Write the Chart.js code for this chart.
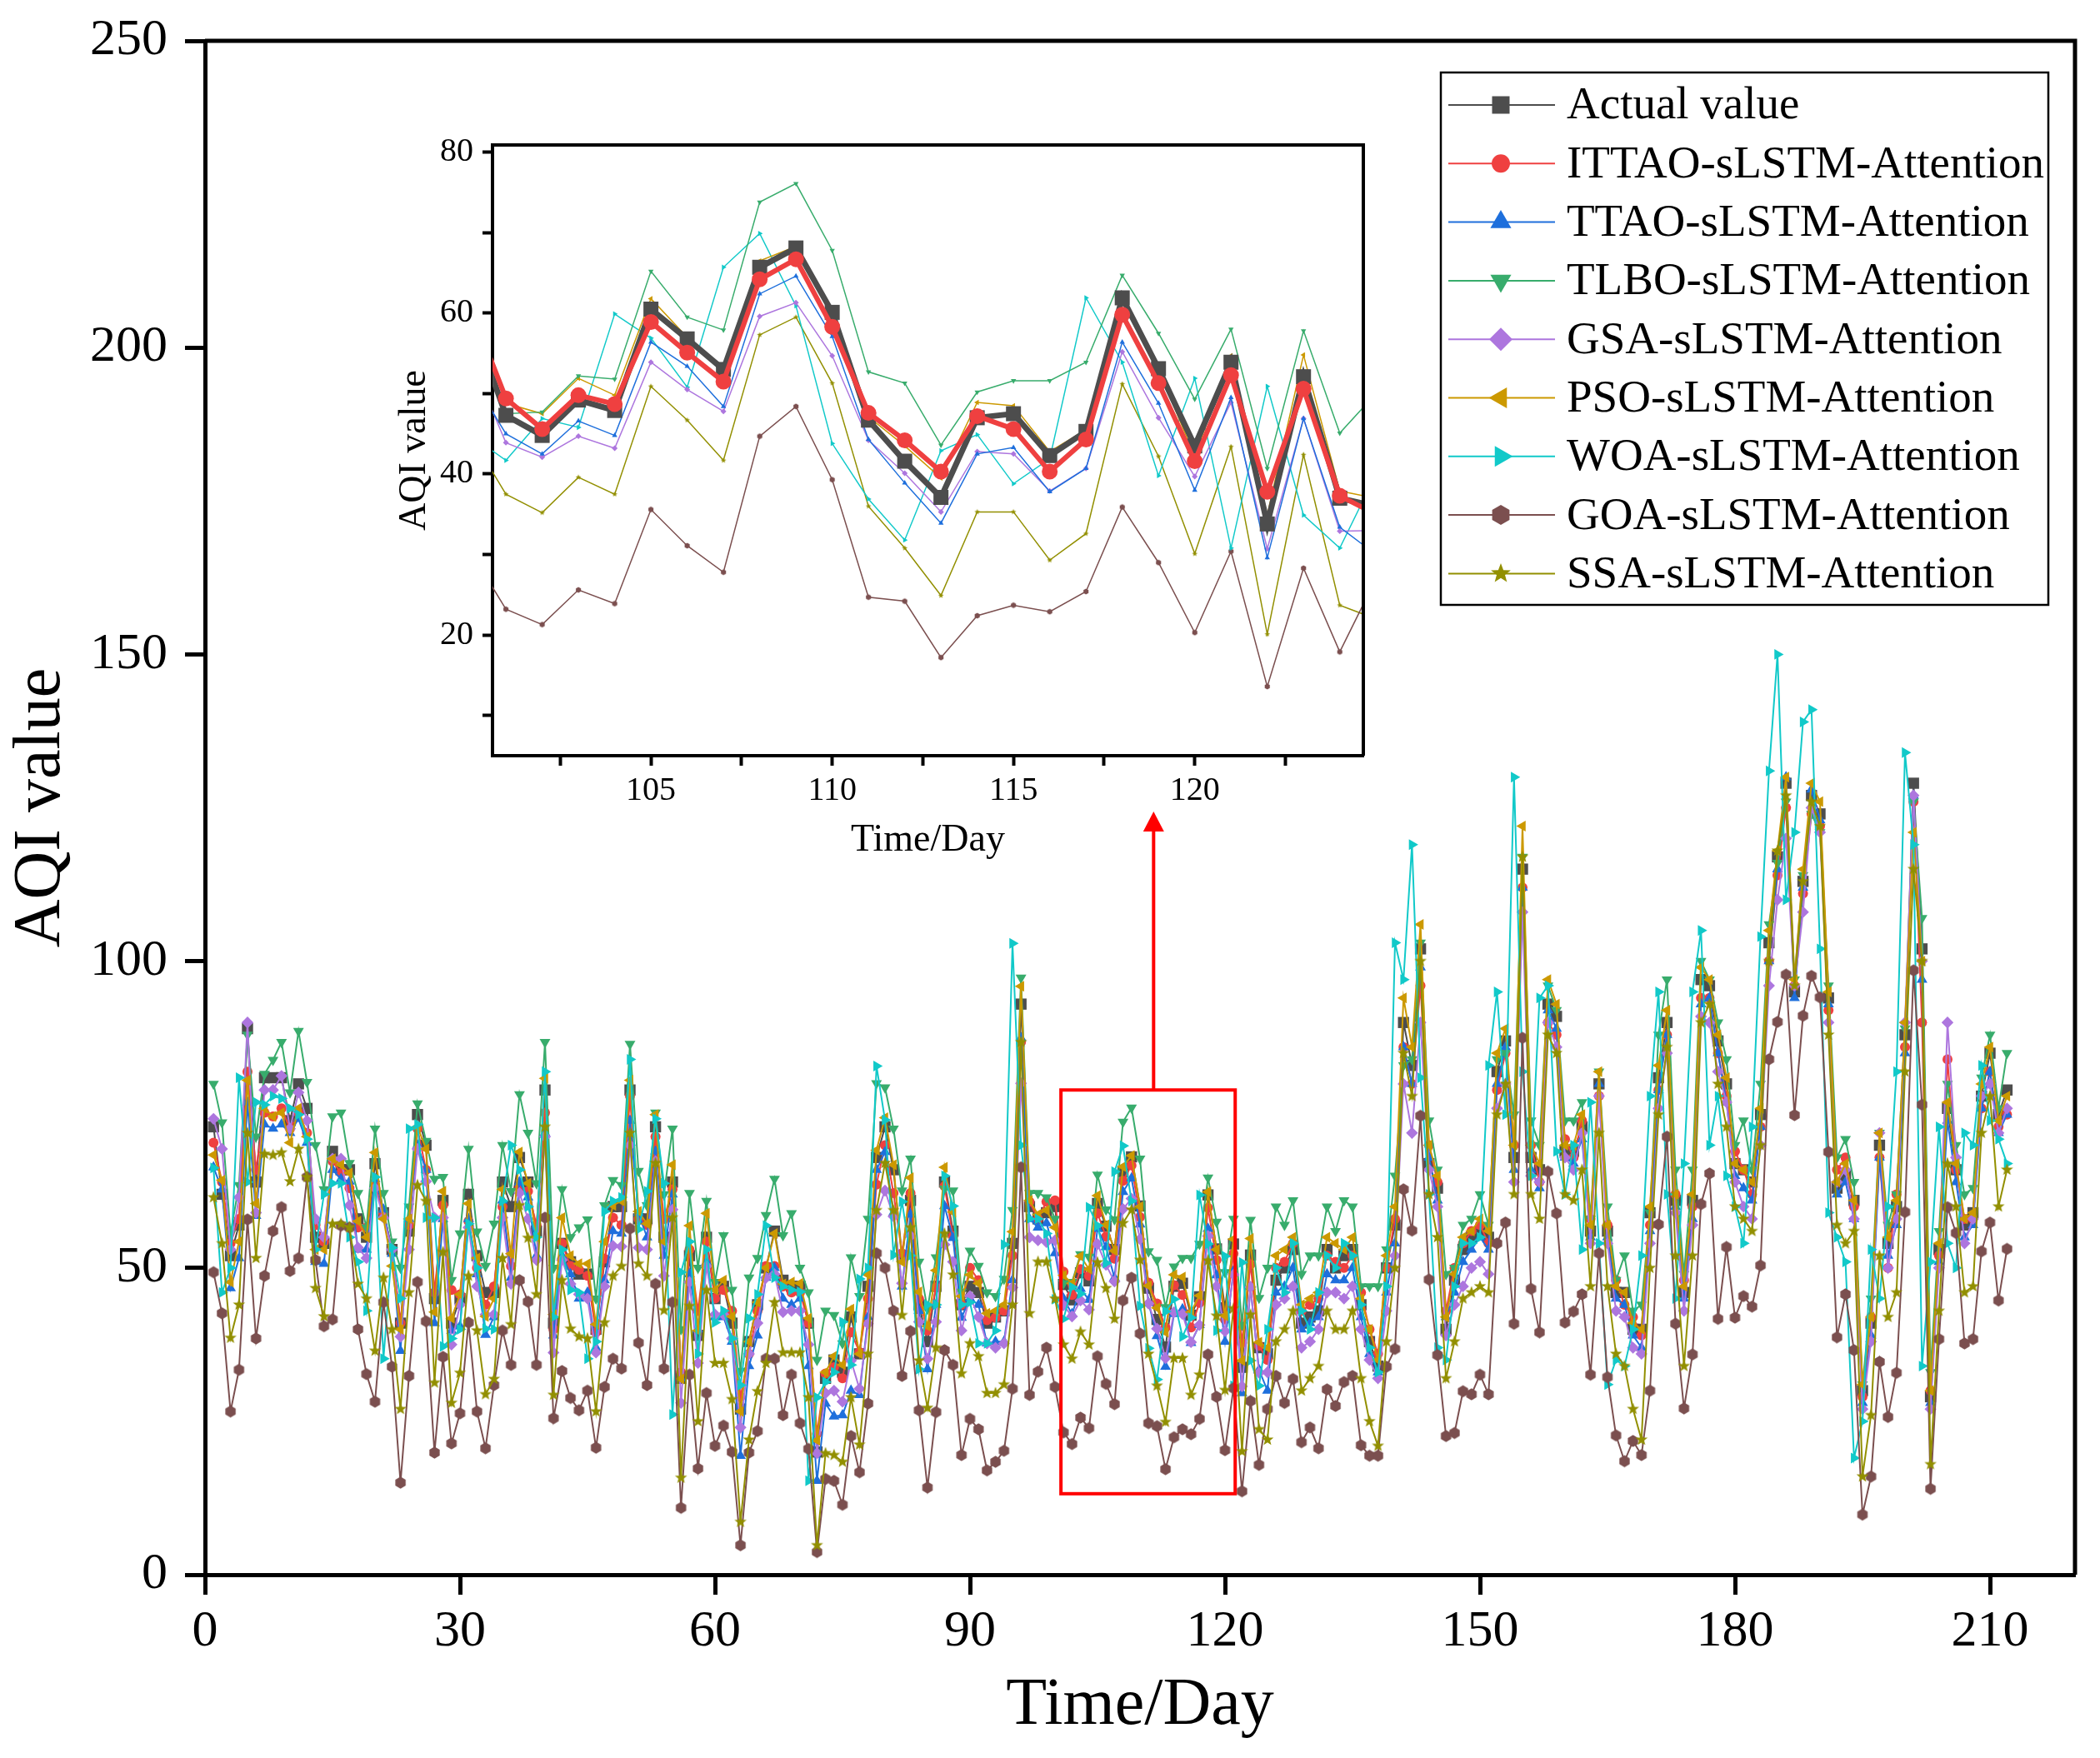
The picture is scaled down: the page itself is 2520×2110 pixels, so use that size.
<!DOCTYPE html>
<html>
<head>
<meta charset="utf-8">
<script src="https://cdn.jsdelivr.net/npm/chart.js@4.4.1/dist/chart.umd.min.js"></script>
<style>
  html, body { margin: 0; padding: 0; background: #fff; }
  #wrap { position: relative; width: 2520px; height: 2110px; }
  #main { position: absolute; left: 0; top: 0; }
  #inset { position: absolute; left: 440px; top: 150px; }
</style>
</head>
<body>
<div id="wrap">
  <canvas id="main" width="2520" height="2110"></canvas>
  <canvas id="inset" width="1216" height="900"></canvas>
</div>
<script>
// --- values (days 1..212) ---
const actual = [
  73, 62, 52, 57, 89, 64, 81, 81, 81, 74,
  80, 76, 55, 54, 69, 66, 66, 58, 55, 67,
  59, 53, 41, 56, 75, 70, 45, 61, 41, 45,
  62, 52, 46, 46, 64, 60, 68, 64, 56, 79,
  41, 54, 51, 49, 49, 40, 51, 60, 60, 79,
  58, 58, 73, 55, 64, 32, 52, 39, 55, 45,
  47, 41, 27, 38, 44, 50, 56, 48, 47, 47,
  41, 20, 32, 35, 33, 42, 36, 47, 68, 73,
  66, 52, 61, 44, 38, 47, 64, 56, 44, 47,
  46, 41, 42, 43, 54, 93, 60, 58, 59, 60,
  47.3, 44.8, 49.2, 47.9, 60.5, 56.8, 53, 65.7, 68.1, 60.1,
  46.7, 41.6, 37.1, 47, 47.5, 42.3, 45.3, 61.9, 53.1, 43.5,
  53.9, 33.8, 52.1, 37, 36, 48, 50, 53, 41, 42,
  43, 53, 50, 52, 53, 44, 38, 34, 50, 57,
  90, 83, 102, 67, 63, 40, 48, 53, 55, 56,
  55, 82, 87, 68, 115, 68, 66, 93, 91, 69,
  69, 73, 56, 80, 56, 46, 46, 40, 40, 59,
  81, 90, 61, 46, 61, 97, 96, 87, 80, 67,
  66, 64, 75, 103, 117, 129, 95, 113, 127, 124,
  94, 63, 65, 61, 30, 41, 70, 54, 60, 88,
  129, 102, 29, 53, 76, 66, 57, 59, 78, 85, 75, 79
];
const ittao = [
  70.4, 64, 54, 58, 82, 66, 75.3, 74.7, 76, 72.7,
  75.3, 72, 57, 54.3, 67.4, 65.5, 63, 56.6, 56.6, 63.5,
  58.9, 53, 41, 57, 72.7, 66, 46, 60.2, 46.4, 45.7,
  57.6, 50, 44, 47, 60, 50.3, 63, 62.5, 57, 75.3,
  40, 54, 50.3, 49.7, 48.7, 39.5, 51.5, 58.2, 57, 78,
  58, 57, 71.4, 58, 62.8, 33, 53, 43, 54.3, 45,
  46.4, 43, 29, 36, 43, 50.3, 50.3, 47, 46, 46,
  41, 23, 32.8, 33.8, 32, 39.5, 36.3, 45, 63.6, 70,
  62.2, 52.4, 62.2, 45, 39.8, 46.8, 63.3, 55.2, 44, 50,
  48, 41.5, 41.9, 43, 52, 86.8, 60.8, 58, 60.8, 61,
  49.4, 45.6, 49.8, 48.7, 58.9, 55.1, 51.5, 64.2, 66.7, 58.3,
  47.6, 44.2, 40.3, 47.2, 45.6, 40.3, 44.3, 59.8, 51.3, 41.6,
  52.3, 37.8, 50.6, 37.3, 35, 50, 51, 54, 43, 44,
  45, 52, 51, 50, 52, 46, 40, 36, 50, 58,
  86, 80, 96, 70, 64, 43, 50, 54, 56, 57,
  54, 79, 85, 70, 112, 70, 64, 90, 88, 71,
  68, 74, 58, 78, 57, 48, 44, 42, 39, 57,
  79, 88, 62, 48, 60, 94, 94, 85, 78, 69,
  66, 62, 73, 100, 114, 125, 96, 111, 124, 122,
  92, 66, 68, 60, 29, 42, 68, 50, 62, 86,
  126, 90, 30, 52, 84, 66, 58, 58, 76, 82, 73, 75
];
const ttao = [
  66.4, 62.8, 46.7, 51.6, 77, 58.5, 73.4, 72.7, 73.4, 72,
  74.3, 70.4, 51, 50.7, 66, 64.5, 64.1, 53, 53, 64.5,
  59.5, 52.3, 36.5, 58, 70, 66, 41, 58, 39.8, 40.5,
  58, 49, 39.1, 42, 61, 48.4, 64, 61.5, 52, 72,
  39, 52, 49, 45, 46, 37, 48, 56, 55.6, 74,
  59, 55, 69, 52, 62, 32, 49, 40, 51, 42,
  42, 38, 19.4, 34, 39, 48.4, 50, 45, 44, 45,
  34, 15.3, 27.9, 25.8, 26, 30, 29.3, 42, 66, 68.9,
  59, 47, 58.7, 43, 33.5, 44, 60.1, 54.9, 41.9, 45,
  44, 37.7, 38, 38, 48, 87.5, 58, 56.6, 57.3, 52.4,
  45.0, 42.5, 46.6, 44.8, 56.4, 53.4, 48.4, 62.4, 64.6, 57.1,
  44.3, 38.9, 33.9, 42.5, 43.3, 37.8, 40.7, 56.4, 48.8, 38.0,
  49.5, 29.6, 46.9, 33.4, 30, 46, 47, 50, 40, 41,
  42, 49, 48, 48, 50, 42, 36, 33, 46, 54,
  86, 80, 99, 68, 61, 42, 46, 51, 53, 55,
  53, 80, 86, 66, 112, 66, 63, 92, 89, 68,
  67, 71, 55, 80, 55, 45, 44, 39, 37, 56,
  79, 88, 60, 45, 58, 93, 94, 85, 77, 65,
  63, 61, 73, 100, 115, 130, 94, 112, 128, 123,
  93, 62, 64, 58, 28, 39, 68, 52, 57, 85,
  127, 97, 28, 51, 74, 64, 55, 57, 76, 82, 72, 75
];
const tlbo = [
  80, 73.7, 55.6, 63.5, 88, 71.4, 81.6, 83.9, 86.8, 78.6,
  88.6, 80.3, 70, 62.8, 74.7, 75.3, 67.1, 62.2, 56.6, 72.7,
  62.2, 54.3, 50, 60, 76.8, 70.7, 64.5, 64.8, 48, 55.6,
  69.4, 55.9, 50.3, 57.2, 70, 62.5, 78.3, 72, 63.8, 86.8,
  50, 62.8, 55, 56.6, 57.9, 45, 60.2, 64.3, 63.5, 86.5,
  65.8, 60.2, 75.3, 62, 72.7, 40, 62.2, 50, 60.9, 47.7,
  55.3, 46.4, 33.2, 48.4, 51.6, 58.6, 64.5, 55.3, 58.9, 50,
  46, 35, 43, 42.3, 37.7, 51.7, 45.4, 58, 80.1, 79.4,
  72.7, 62.6, 67.8, 51, 43.3, 51.7, 62.9, 62.6, 46.1, 52.8,
  50.3, 46, 45.4, 48.2, 59.4, 97.3, 62.2, 62.2, 61.5, 58,
  47.5, 47.7, 52.2, 51.8, 65.2, 59.5, 57.9, 73.8, 76.1, 67.8,
  52.7, 51.3, 43.6, 50.2, 51.6, 51.6, 53.9, 64.7, 57.5, 49.3,
  58.0, 40.7, 57.8, 45.1, 50, 60, 57, 61, 49, 52,
  52, 60, 56, 61, 60, 47, 47, 47, 53, 65,
  83, 84, 103, 74, 66, 49, 50, 57, 58, 62,
  57, 84, 85, 75, 117, 74, 70, 96, 92, 74,
  74, 77, 58, 82, 60, 48, 52, 43, 44, 59,
  88, 97, 66, 49, 66, 100, 97, 90, 84, 70,
  74, 66, 80, 106, 116, 126, 97, 114, 124, 121,
  96, 68, 71, 64, 31, 45, 72, 57, 62, 89,
  126, 107, 33, 56, 80, 70, 62, 63, 81, 88, 76, 85
];
const gsa = [
  74.3, 69.4, 53, 61.5, 90, 59, 79, 79, 81.3, 72.7,
  78.6, 74, 58, 55, 67.8, 67.8, 60.2, 53.3, 51.6, 63,
  58.2, 53, 38.8, 53, 69.4, 64.1, 58.2, 58.2, 37.5, 44,
  56.6, 47, 42.4, 42.4, 58.2, 47.4, 62.2, 58, 51.3, 71.4,
  36.2, 51.3, 47.4, 45.7, 45, 36.2, 47, 53.6, 53.5, 70,
  53.3, 53, 67.4, 48.7, 59.5, 28, 47.7, 34.5, 50.3, 42.4,
  42.4, 38.5, 24, 36, 41, 48.4, 49, 42.8, 43, 43,
  37.5, 19.8, 29.6, 30, 28.2, 34.9, 30.3, 40.9, 58.7, 62.6,
  58.4, 47.5, 55.2, 41.2, 35.2, 41.2, 53.8, 51, 39.8, 45.4,
  42, 37.7, 37, 37.7, 46.8, 80.1, 55, 54.5, 54.2, 54.5,
  43.9, 42.1, 44.7, 43.2, 53.9, 50.5, 47.8, 59.6, 61.3, 54.7,
  44.2, 40.1, 35.3, 42.8, 42.5, 37.9, 40.7, 55.2, 47.0, 39.7,
  48.9, 30.7, 46.9, 32.9, 33, 44, 45, 47, 37, 38,
  40, 46, 46, 45, 47, 40, 35, 32, 43, 52,
  80, 72, 90, 66, 60, 39, 44, 47, 50, 51,
  49, 76, 80, 64, 108, 65, 64, 90, 86, 68,
  66, 72, 54, 78, 54, 43, 42, 37, 36, 54,
  76, 85, 59, 43, 57, 91, 90, 82, 77, 64,
  60, 58, 70, 96, 110, 120, 96, 108, 125, 121,
  90, 64, 66, 58, 27, 38, 72, 50, 58, 90,
  127, 100, 27, 50, 90, 68, 54, 58, 78, 80, 72, 76
];
const pso = [
  68.4, 64.3, 47.7, 54.3, 80.6, 60.5, 76, 74.7, 75.3, 70.4,
  76, 71.4, 53, 53, 67.8, 66.8, 65.5, 57.6, 55, 68.8,
  58, 50.3, 40, 58, 73, 69.4, 42.8, 62.5, 41.8, 45.7,
  60.5, 51.6, 42.1, 45, 62.8, 52.3, 68.9, 63.8, 55, 80.9,
  42.4, 58.2, 52, 50.7, 50.7, 40.8, 54.3, 60.2, 60.9, 80.6,
  59.2, 57.2, 75, 54.3, 66.8, 31.9, 56.9, 39.8, 58.9, 46.4,
  48, 42.1, 26.6, 38, 44.4, 50, 55.6, 47.4, 47.7, 47.5,
  41.8, 21.9, 33, 35.6, 34.2, 43.3, 36, 48.9, 69.2, 74.5,
  66.8, 51, 64.7, 46.1, 40.5, 49.6, 66.4, 59.1, 45.4, 48.9,
  47.5, 42.6, 43, 44, 55.9, 95.9, 61, 58.7, 59.4, 56.6,
  48.8, 47.5, 51.9, 49.8, 61.8, 57.0, 52.8, 66.5, 68.3, 60.0,
  47.1, 43.5, 39.5, 48.9, 48.5, 42.8, 45.5, 62.4, 53.0, 42.2,
  54.7, 34.9, 54.8, 37.9, 37, 52, 53, 55, 44, 45,
  46, 55, 54, 53, 55, 45, 40, 35, 52, 60,
  94, 86, 106, 70, 65, 42, 49, 55, 56, 58,
  56, 85, 89, 70, 122, 70, 67, 97, 93, 70,
  70, 75, 57, 82, 57, 47, 46, 41, 40, 60,
  83, 92, 62, 47, 62, 99, 97, 88, 81, 67,
  66, 64, 76, 105, 118, 130, 97, 115, 129, 126,
  95, 64, 67, 61, 31, 42, 72, 55, 61, 90,
  121, 100, 30, 54, 77, 67, 58, 59, 80, 86, 74, 78
];
const woa = [
  66.3, 46, 50, 81, 64, 77, 76.6, 78, 77.6, 76,
  75, 71, 53, 62, 63.8, 63.8, 55, 51, 43, 64.8,
  35.2, 53.3, 45, 72.7, 73.4, 58.2, 58.2, 37.2, 38.5, 40,
  57.2, 50, 40.1, 40, 60.9, 70, 66, 60, 55, 82,
  42, 53, 46.4, 46, 35.2, 38, 59.2, 60.9, 61.5, 84,
  56.3, 62.5, 74.3, 63.8, 26.1, 49.3, 54.3, 36, 53, 41.1,
  43, 38.5, 30.9, 41.8, 45.7, 56.9, 48.4, 47, 46.4, 46.1,
  15.3, 28.9, 31.4, 33, 41.2, 34.2, 48.2, 50, 82.9, 74.1,
  52.1, 60.8, 52, 33.5, 44, 44, 65, 60.1, 44, 44.4,
  37.7, 37.7, 39.8, 53.8, 102.9, 70, 58, 58, 55.6, 44.9,
  41.7, 46.9, 45.8, 59.9, 56.9, 50.8, 65.7, 69.9, 60.9, 43.8,
  36.9, 31.8, 42.9, 44.9, 38.8, 41.9, 61.9, 53.9, 39.8, 51.9,
  30.8, 50.9, 34.9, 30.8, 40, 50, 46, 54, 43, 40,
  46, 52, 50, 54, 52, 44, 37, 33, 47, 103,
  97, 119, 81, 62, 37, 35, 47, 54, 54, 55,
  83, 95, 75, 130, 82, 65, 94, 96, 69, 62,
  70, 53, 77, 54, 31, 35, 34, 40, 52, 78,
  95, 62, 45, 67, 95, 105, 70, 78, 65, 60,
  54, 73, 104, 131, 150, 110, 121, 139, 141, 102,
  59, 55, 51, 19, 25, 53, 45, 60, 82, 134,
  119, 34, 51, 73, 54, 50, 72, 70, 83, 74, 71, 67
];
const goa = [
  49.3, 42.6, 26.6, 33.4, 57.9, 38.5, 48.7, 56, 59.9, 49.5,
  51.6, 64.8, 51.3, 40.5, 41.6, 56.9, 56.6, 40, 32.7, 28.2,
  44.4, 33.9, 15, 32.4, 47.7, 41.3, 19.9, 35.5, 21.4, 26.3,
  41.1, 26.6, 20.6, 30.9, 39.8, 34.2, 48, 44.5, 34.2, 58.2,
  25.5, 33.2, 28.8, 26.8, 30, 20.7, 30.6, 35.2, 33.6, 56.4,
  37.8, 30.9, 47.4, 33.6, 44.4, 10.9, 32.6, 17.3, 29.6, 21,
  24.3, 20, 4.8, 19.9, 23.4, 35.2, 35.2, 26, 32.6, 24.7,
  20.5, 3.7, 15.6, 15.3, 11.4, 22.6, 16.7, 27.9, 52.4, 50,
  43, 32.4, 39.7, 26.8, 14.2, 26.5, 36.6, 34.2, 19.5, 25.4,
  23.7, 17, 18.4, 20.2, 30.3, 66.4, 29.3, 33.1, 37, 30.6,
  23.2, 21.3, 25.6, 23.9, 35.6, 31.1, 27.8, 44.7, 48.4, 39.3,
  24.7, 24.2, 17.2, 22.4, 23.7, 22.9, 25.4, 35.9, 29.0, 20.3,
  30.4, 13.6, 28.3, 17.9, 27, 32.4, 28, 31.9, 21.6, 24,
  20.6, 30.2, 27.5, 31.4, 32.4, 21.1, 19.4, 19.4, 33.9, 36.8,
  62.8, 56.1, 74.8, 48.1, 35.8, 22.6, 23.1, 29.9, 29.4, 32.6,
  29.4, 54, 57.4, 40.9, 87.5, 46.6, 39.5, 65.7, 58.9, 41.1,
  42.9, 45.7, 32.6, 52.4, 32.2, 22.7, 18.5, 21.8, 19.5, 30,
  57.1, 71.4, 40.9, 27.1, 35.9, 60.4, 65.4, 41.7, 53.4, 41.9,
  45.4, 43.7, 50.4, 84, 90.1, 97.8, 74.9, 91.1, 97.6, 94.1,
  68.9, 38.7, 45.7, 36.6, 9.8, 16, 34.7, 25.7, 32.9, 59.1,
  98.5, 76.6, 14, 38.4, 59.9, 55.7, 37.7, 38.4, 52.7, 57.4, 44.7, 53.1
];
const ssa = [
  61.5, 54, 38.6, 44, 72, 51.6, 68.6, 68.4, 68.8, 64.1,
  69.4, 64.8, 46.7, 42.1, 57.2, 57.2, 56.6, 47.4, 45, 36.5,
  48.4, 40, 27, 46, 63.5, 60.9, 31.3, 52.6, 28, 32.9,
  48.7, 39.8, 29.4, 31.9, 51.6, 40.8, 60.2, 54.9, 45.7, 73,
  29.3, 48, 40.1, 38.8, 38.5, 26.6, 41.1, 48.7, 50.3, 72,
  50.7, 48.7, 67.1, 43.1, 58.2, 15.8, 43.8, 25, 46.4, 34.5,
  34.5, 28.6, 8.6, 22, 29.9, 34.5, 44.4, 36.2, 36.2, 36.2,
  28.9, 4.8, 19.8, 19.5, 18.4, 28.9, 21.2, 36, 59.4, 67.1,
  59.4, 42.3, 56.6, 34.9, 27.2, 37, 55.6, 48.9, 32.8, 37.7,
  35.6, 29.6, 29.6, 31, 44, 86.8, 42.6, 51, 51, 45,
  37.5, 35.2, 39.6, 37.5, 50.9, 46.7, 41.7, 57.3, 59.5, 51.3,
  36.0, 30.8, 24.9, 35.3, 35.3, 29.3, 32.6, 51.2, 42.2, 30.1,
  43.4, 20.1, 42.4, 23.7, 22, 38, 40, 43, 30, 32,
  34, 43, 40, 40, 43, 32, 25, 21, 38, 50,
  85, 78, 100, 62, 55, 32, 38, 45, 46, 47,
  46, 75, 80, 62, 117, 62, 58, 88, 85, 62,
  61, 66, 47, 72, 47, 36, 34, 27, 22, 50,
  75, 86, 52, 34, 52, 90, 93, 80, 73, 60,
  58, 56, 70, 100, 118, 127, 96, 113, 126, 122,
  88, 57, 54, 56, 16, 26, 52, 42, 46, 82,
  115, 100, 18, 43, 67, 60, 46, 47, 72, 78, 60, 66
];

const days = actual.map((v, i) => i + 1);
const mainTicksX = [0, 30, 60, 90, 120, 150, 180, 210];
const mainTicksY = [0, 50, 100, 150, 200, 250];
const insetTicksX = [102.5, 105, 107.5, 110, 112.5, 115, 117.5, 120, 122.5];
const insetTicksY = [10, 20, 30, 40, 50, 60, 70, 80];

const names = ['Actual value', 'ITTAO-sLSTM-Attention', 'TTAO-sLSTM-Attention', 'TLBO-sLSTM-Attention',
  'GSA-sLSTM-Attention', 'PSO-sLSTM-Attention', 'WOA-sLSTM-Attention', 'GOA-sLSTM-Attention', 'SSA-sLSTM-Attention'];
const values = [actual, ittao, ttao, tlbo, gsa, pso, woa, goa, ssa];
const colors = ['#4d4d4d', '#ef4040', '#1e6fdc', '#38ac6c', '#ad76de', '#cc9900', '#11c9c9', '#7b4f4f', '#928f00'];
const shapes = ['rect', 'circle', 'triUp', 'triDown', 'diamond', 'triLeft', 'triRight', 'hex', 'star'];

// draw a filled marker shape (used for the legend and the image point styles)
function drawMarker(ctx, shape, x, y, r, color) {
  ctx.save();
  ctx.fillStyle = color;
  ctx.beginPath();
  const poly = (n, start, rad) => {
    for (let k = 0; k < n; k++) {
      const a = start + k * 2 * Math.PI / n;
      const px = x + Math.cos(a) * rad, py = y + Math.sin(a) * rad;
      k ? ctx.lineTo(px, py) : ctx.moveTo(px, py);
    }
  };
  if (shape === 'rect') ctx.rect(x - r, y - r, 2 * r, 2 * r);
  else if (shape === 'circle') ctx.arc(x, y, r, 0, 2 * Math.PI);
  else if (shape === 'triUp') poly(3, -Math.PI / 2, r);
  else if (shape === 'triDown') poly(3, Math.PI / 2, r);
  else if (shape === 'triLeft') poly(3, Math.PI, r);
  else if (shape === 'triRight') poly(3, 0, r);
  else if (shape === 'diamond') poly(4, -Math.PI / 2, r);
  else if (shape === 'hex') poly(6, -Math.PI / 2, r);
  else if (shape === 'star') {
    for (let k = 0; k < 10; k++) {
      const a = -Math.PI / 2 + k * Math.PI / 5;
      const rad = k % 2 ? r * 0.42 : r;
      const px = x + Math.cos(a) * rad, py = y + Math.sin(a) * rad;
      k ? ctx.lineTo(px, py) : ctx.moveTo(px, py);
    }
  }
  ctx.closePath();
  ctx.fill();
  ctx.restore();
}

function markerImage(shape, r, color) {
  const c = document.createElement('canvas');
  c.width = c.height = Math.ceil(2 * r + 2);
  drawMarker(c.getContext('2d'), shape, c.width / 2, c.height / 2, r, color);
  return c;
}

// chart.js point style settings per shape
function pointOpts(shape, size, color) {
  switch (shape) {
    case 'rect': return { pointStyle: 'rect', pointRadius: size * 1.414, pointRotation: 0 };
    case 'circle': return { pointStyle: 'circle', pointRadius: size, pointRotation: 0 };
    case 'triUp': return { pointStyle: 'triangle', pointRadius: size * 1.15, pointRotation: 0 };
    case 'triDown': return { pointStyle: 'triangle', pointRadius: size * 1.15, pointRotation: 180 };
    case 'triLeft': return { pointStyle: 'triangle', pointRadius: size * 1.15, pointRotation: 270 };
    case 'triRight': return { pointStyle: 'triangle', pointRadius: size * 1.15, pointRotation: 90 };
    case 'diamond': return { pointStyle: 'rectRot', pointRadius: size * 1.1, pointRotation: 0 };
    default: return { pointStyle: markerImage(shape, size * 1.1, color), pointRadius: size, pointRotation: 0 };
  }
}

// fixed axis box sizes, and no extra room for overhanging tick labels
function fixX(h) {
  return s => { s.height = h; s.paddingLeft = 0; s.paddingRight = 0; };
}
function fixY(w) {
  return s => { s.width = w; s.paddingTop = 0; s.paddingBottom = 0; };
}

Chart.defaults.font.family = '"Liberation Serif", "Times New Roman", serif';
Chart.defaults.color = '#000';

const frameTopRight = {
  id: 'frameTopRight',
  afterDatasetsDraw(chart, args, opts) {
    const { ctx, chartArea: a } = chart;
    ctx.save();
    ctx.strokeStyle = '#000';
    ctx.lineWidth = opts.width;
    ctx.beginPath();
    ctx.moveTo(a.left, a.top);
    ctx.lineTo(a.right, a.top);
    ctx.lineTo(a.right, a.bottom);
    ctx.stroke();
    ctx.restore();
  }
};

// red zoom rectangle and arrow pointing to the inset
const zoomMark = {
  id: 'zoomMark',
  afterDatasetsDraw(chart) {
    const { ctx, scales: { x, y } } = chart;
    const x0 = x.getPixelForValue(100.7), x1 = x.getPixelForValue(121.2);
    const y0 = y.getPixelForValue(79), y1 = y.getPixelForValue(13.2);
    const ax = x.getPixelForValue(111.6), tip = y.getPixelForValue(124.4);
    ctx.save();
    ctx.strokeStyle = '#ff0000';
    ctx.fillStyle = '#ff0000';
    ctx.lineWidth = 4;
    ctx.strokeRect(x0, y0, x1 - x0, y1 - y0);
    ctx.beginPath();
    ctx.moveTo(ax, y0);
    ctx.lineTo(ax, tip + 20);
    ctx.stroke();
    ctx.beginPath();
    ctx.moveTo(ax, tip);
    ctx.lineTo(ax - 12.5, tip + 24);
    ctx.lineTo(ax + 12.5, tip + 24);
    ctx.closePath();
    ctx.fill();
    ctx.restore();
  }
};

const legendBox = {
  id: 'legendBox',
  afterDraw(chart) {
    const ctx = chart.ctx;
    const legendSize = [10.5, 11, 14.5, 14.5, 14, 14.5, 14.5, 12, 12.5];
    ctx.save();
    ctx.strokeStyle = '#000';
    ctx.lineWidth = 2.5;
    ctx.strokeRect(1729, 87, 729, 639);
    ctx.font = '55px "Liberation Serif", "Times New Roman", serif';
    ctx.textBaseline = 'middle';
    names.forEach((name, i) => {
      const yy = 126 + i * 70.3;
      ctx.strokeStyle = colors[i];
      ctx.lineWidth = 2;
      ctx.beginPath();
      ctx.moveTo(1738, yy);
      ctx.lineTo(1866, yy);
      ctx.stroke();
      drawMarker(ctx, shapes[i], 1801, yy, legendSize[i], colors[i]);
      ctx.fillStyle = '#000';
      ctx.fillText(name, 1880, yy + 2);
    });
    ctx.restore();
  }
};

// --- main chart ---
const mainSizes = [6.7, 6, 6.5, 6.5, 6.5, 6.5, 6.5, 6.5, 7];
const mainDatasets = values.map((vals, i) => Object.assign({
  label: names[i],
  data: days.map((d, k) => ({ x: d, y: vals[k] })),
  borderColor: colors[i],
  backgroundColor: colors[i],
  pointBackgroundColor: colors[i],
  pointBorderColor: colors[i],
  pointBorderWidth: 0,
  borderWidth: 2,
  tension: 0,
  order: 8 - i
}, pointOpts(shapes[i], mainSizes[i], colors[i])));

new Chart(document.getElementById('main'), {
  type: 'line',
  data: { datasets: mainDatasets },
  options: {
    responsive: false,
    animation: false,
    devicePixelRatio: 1,
    layout: { padding: { top: 49, right: 30, left: 0, bottom: 0 } },
    plugins: { legend: { display: false }, tooltip: { enabled: false }, frameTopRight: { width: 5 } },
    scales: {
      x: {
        type: 'linear', min: 0, max: 220,
        afterBuildTicks: s => { s.ticks = mainTicksX.map(v => ({ value: v })); },
        afterFit: fixX(220),
        ticks: { font: { size: 62 }, padding: 8, maxRotation: 0, autoSkip: false },
        grid: { drawOnChartArea: false, drawTicks: true, tickLength: 24, tickWidth: 5, tickColor: '#000' },
        border: { display: true, width: 5, color: '#000' },
        title: { display: true, text: 'Time/Day', font: { size: 80 }, padding: { top: 0, bottom: 14 } }
      },
      y: {
        min: 0, max: 250,
        afterBuildTicks: s => { s.ticks = mainTicksY.map(v => ({ value: v })); },
        afterFit: fixY(246),
        ticks: { font: { size: 62 }, padding: 21 },
        grid: { drawOnChartArea: false, drawTicks: true, tickLength: 24, tickWidth: 5, tickColor: '#000' },
        border: { display: true, width: 5, color: '#000' },
        title: { display: true, text: 'AQI value', font: { size: 80 }, padding: { top: 2, bottom: 0 } }
      }
    }
  },
  plugins: [frameTopRight, zoomMark, legendBox]
});

// --- inset chart (days ~100-125) ---
const insetOrder = [1, 0, 2, 3, 4, 5, 6, 7, 8];
const insetDatasets = values.map((vals, i) => {
  const size = i === 0 ? 9 : (i === 1 ? 9.5 : 3.2);
  return Object.assign({
    label: names[i],
    data: days.map((d, k) => ({ x: d, y: vals[k] })),
    borderColor: colors[i],
    backgroundColor: colors[i],
    pointBackgroundColor: colors[i],
    pointBorderColor: colors[i],
    pointBorderWidth: 0,
    borderWidth: i === 0 ? 7 : (i === 1 ? 6 : 1.5),
    tension: 0,
    order: insetOrder[i]
  }, pointOpts(shapes[i], size, colors[i]));
});

new Chart(document.getElementById('inset'), {
  type: 'line',
  data: { datasets: insetDatasets },
  options: {
    responsive: false,
    animation: false,
    devicePixelRatio: 1,
    layout: { padding: { top: 24, right: 20, left: 0, bottom: 0 } },
    plugins: { legend: { display: false }, tooltip: { enabled: false }, frameTopRight: { width: 4 } },
    scales: {
      x: {
        type: 'linear', min: 100.63, max: 124.65,
        afterBuildTicks: s => { s.ticks = insetTicksX.map(v => ({ value: v })); },
        afterFit: fixX(143),
        ticks: { font: { size: 40 }, padding: 6, maxRotation: 0, autoSkip: false,
          callback: v => (v % 5 === 0 ? v : '') },
        grid: { drawOnChartArea: false, drawTicks: true, tickLength: 12, tickWidth: 4, tickColor: '#000' },
        border: { display: true, width: 4, color: '#000' },
        title: { display: true, text: 'Time/Day', font: { size: 46 }, padding: { top: 0, bottom: 13 } }
      },
      y: {
        min: 5, max: 80.9,
        afterBuildTicks: s => { s.ticks = insetTicksY.map(v => ({ value: v })); },
        afterFit: fixY(151),
        ticks: { font: { size: 40 }, padding: 11,
          callback: v => (v % 20 === 0 ? v : '') },
        grid: { drawOnChartArea: false, drawTicks: true, tickLength: 12, tickWidth: 4, tickColor: '#000' },
        border: { display: true, width: 4, color: '#000' },
        title: { display: true, text: 'AQI value', font: { size: 46 }, padding: { top: 30, bottom: 0 } }
      }
    }
  },
  plugins: [frameTopRight]
});
</script>
</body>
</html>
